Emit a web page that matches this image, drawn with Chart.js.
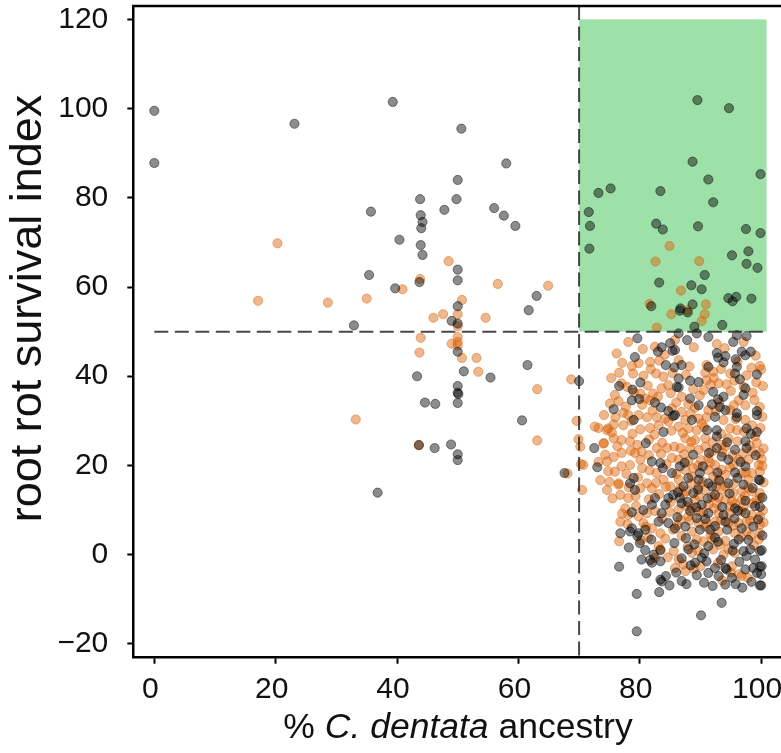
<!DOCTYPE html>
<html>
<head>
<meta charset="utf-8">
<script src="https://cdn.jsdelivr.net/npm/chart.js@4.4.1/dist/chart.umd.min.js"></script>
<style>
  html, body { margin: 0; padding: 0; background: #fff; overflow: hidden; }
  /* the reference is a crop: the plot runs on past the right edge of the window */
  #chart { display: block; }
</style>
</head>
<body>
<canvas id="chart" width="820" height="753"></canvas>
<script>
// tick values
const xTicks = [0, 20, 40, 60, 80, 100];
const yTicks = [-20, 0, 20, 40, 60, 80, 100, 120];

// thresholds for the highlighted quadrant
const ancestryCut = 70;
const survivalCut = 50;
const boxTop = 120;
const boxRight = 100.9;

// [ancestry %, survival index] - dark points
const darkPoints = [
  [0,99.5],[0,87.8],[23.1,96.6],[39.3,101.5],[50.6,95.5],[58.0,87.7],[50.0,84.0],[43.8,79.7],[49.8,79.7],
  [47.8,77.3],[35.7,76.9],[56.0,77.7],[57.6,76.0],[59.5,73.7],[43.9,76.1],[44.2,74.6],[44.0,73.2],[40.4,70.6],
  [43.9,69.4],[44.2,67.2],[50.0,63.9],[50.0,61.5],[35.4,62.7],[39.7,59.7],[43.7,61.1],[63.0,58.0],[61.7,54.8],
  [50.0,55.7],[49.0,52.4],[50.0,51.8],[32.9,51.4],[50.0,45.5],[61.5,42.5],[51.0,41.1],[43.3,40.0],[55.4,39.7],
  [50.0,37.8],[50.0,36.3],[50.1,36.0],[44.6,34.1],[46.3,33.8],[50.0,34.0],[60.6,30.1],[43.6,24.6],[46.2,23.9],
  [48.9,24.7],[50.0,22.5],[50.0,21.2],[36.8,13.9],[67.6,18.3],[70.0,38.9],
  // upper right box
  [89.5,101.9],[94.7,100.1],[88.7,88.1],[99.9,85.3],[91.3,84.1],[73.2,81.1],[75.2,82.1],[83.4,81.5],[92.1,79.0],
  [71.6,76.8],[71.8,73.7],[82.7,74.2],[83.8,72.9],[89.6,73.6],[97.5,73.0],[99.9,72.1],[71.7,68.6],[97.9,68.0],
  [95.2,67.1],[97.6,65.2],[99.4,64.3],[90.7,62.7],[83.2,61.0],[88.5,60.4],[90.2,59.5],[81.9,55.7],[88.7,56.1],
  [86.6,54.7],[87.9,54.3],[86.7,55.2],[94.6,57.5],[95.9,57.8],[95.3,56.8],[98.4,57.4],[93.6,51.5],[89.0,51.1],
  // main cluster
  [79.6,48.5],[79.2,44.3],[83.0,45.5],[83.6,46.5],[85.0,47.4],[85.4,45.7],[84.3,42.5],[85.7,42.0],[76.6,37.8],
  [80.1,38.6],[78.8,37.0],[78.7,34.6],[79.9,34.9],[75.7,32.6],[82.5,34.1],[83.5,33.0],[84.7,32.2],[85.5,31.1],
  [79.0,30.2],[83.9,27.5],[86.1,37.6],[86.4,49.6],
  [89.4,49.6],[91.3,48.8],[96.0,49.2],[97.6,49.0],[95.4,47.7],[87.8,48.1],[92.7,45.2],[94.1,44.5],[92.9,44.2],
  [93.8,43.1],[96.8,45.5],[97.4,44.7],[98.3,45.5],[95.8,43.8],[85.8,45.9],[86.9,42.5],[91.3,42.1],[96.0,42.1],
  [95.7,40.6],[99.3,40.4],[96.5,39.3],[86.4,39.5],[88.3,39.0],[89.7,38.7],[86.4,37.5],[97.4,37.3],[97.1,35.8],
  [92.1,36.5],[88.3,35.0],[93.8,35.4],[92.9,34.8],[89.7,33.5],[91.9,33.7],[93.2,33.1],[94.1,32.4],[96.0,31.7],
  [99.3,32.2],[99.3,31.3],[88.6,30.2],[92.4,30.9],[85.8,31.3],[92.7,27.9],[91.1,27.9],[97.6,28.3],[99.3,27.5],
  [96.0,30.8],[99.8,16.7],[99.8,10.7],[100.1,1.0],[99.8,-2.7],[99.8,-6.9],
  [72.5,23.9],[73.0,19.6],[81.0,25.0],[82.0,20.9],[83.4,20.5],[83.8,19.4],[85.3,18.3],[79.0,17.2],[78.4,16.0],
  [79.2,14.5],[82.5,12.7],[84.7,12.7],[85.5,13.4],[82.0,11.2],[78.7,9.5],[80.6,10.0],[83.6,9.3],[83.1,7.4],
  [84.7,7.1],[78.7,5.9],[78.4,5.2],[76.8,4.8],[79.8,4.8],[80.9,5.6],[84.2,11.2],
  [92.7,26.5],[97.4,25.4],[97.6,23.9],[92.7,23.9],[95.7,23.5],[93.5,22.0],[94.6,21.3],[88.8,22.4],[97.4,19.8],
  [95.7,18.4],[89.9,18.3],[91.3,16.0],[91.9,15.3],[89.7,16.8],[94.6,16.0],[97.1,15.7],[99.6,16.8],[87.2,15.3],
  [88.8,13.8],[92.4,13.4],[86.6,12.7],[95.7,10.4],[96.2,9.9],[99.0,10.9],[86.9,11.5],[90.2,11.2],[91.3,9.3],
  [93.8,8.9],[97.4,9.3],[89.4,8.2],[87.5,6.3],[89.9,5.6],[91.6,5.6],[94.1,7.4],[94.4,5.6],[98.7,6.3],[85.8,5.9],
  [86.6,19.8],[88.0,17.2],
  [76.6,-2.7],[80.9,1.0],[80.3,-1.1],[82.0,-1.8],[83.4,-1.5],[82.3,0.0],[83.4,-5.6],[83.6,-6.0],[84.3,-4.8],
  [84.9,-6.9],[83.2,-8.4],[79.5,-8.8],[79.5,-17.2],[79.6,4.2],[81.7,-1.2],[83.4,1.0],
  [86.9,-5.9],[88.0,1.2],[91.0,-1.5],[91.3,-4.1],[92.4,-3.0],[93.0,-4.8],[94.1,-6.7],[94.3,-3.3],[95.2,-5.2],
  [96.3,3.4],[97.1,0.8],[97.6,-0.3],[97.4,-3.3],[98.7,-3.0],[99.3,-4.1],[100.1,-2.6],[100.0,-4.4],[100.0,-6.9],
  [99.8,0.8],[93.5,-10.8],[90.1,-13.6],[92.4,3.8],[94.1,-3.0],[89.1,-1.8],[90.2,-0.7],[98.2,1.2],[91.3,1.9],
  // dense core
  [86.0,-4.0],[87.7,-6.6],[89.4,-4.6],[90.6,-6.3],[92.0,-7.0],[95.8,-6.6],[96.9,-7.4],[98.4,-6.1],
  [86.9,-0.8],[88.4,-2.4],[90.6,0.3],[93.4,-1.2],[95.3,0.9],[96.4,-1.6],[99.0,-1.1],
  [85.7,2.6],[87.6,3.7],[89.0,2.3],[92.9,2.9],[95.5,2.4],[97.9,3.3],[100.2,4.3],
  [86.2,8.4],[88.3,9.8],[90.8,8.0],[92.4,6.4],[95.6,8.1],[96.8,5.9],[99.5,7.9],
  [87.9,11.8],[89.3,10.6],[91.2,12.6],[93.6,10.7],[94.8,13.7],[97.4,12.1],[100.2,12.8],
  [86.3,14.0],[89.6,14.6],[93.1,16.6],[96.1,17.2],[98.6,14.9],
  [87.4,20.6],[90.4,19.8],[92.8,18.4],[96.6,20.8],[99.1,22.3],[91.4,22.8],[94.4,25.2],[98.3,27.1],
  [80.0,2.6],[81.9,3.4],[78.2,1.6],[81.1,-4.2]
];

// [ancestry %, survival index] - orange points
const orangePoints = [
  [20.3,69.8],[17.1,56.9],[28.6,56.5],[35.0,57.4],[40.9,59.5],[43.8,61.8],[48.5,65.8],[56.6,60.7],[64.9,60.3],
  [50.7,57.1],[46.0,53.1],[47.6,53.9],[50.0,53.9],[54.6,53.1],[50.0,51.2],[43.9,48.6],[50.0,48.8],[50.0,47.7],
  [49.0,47.3],[50.0,46.9],[43.7,45.3],[50.7,44.1],[53.1,44.1],[53.4,41.0],[63.1,37.1],[33.2,30.3],[43.6,24.5],
  [63.1,25.6],[68.1,18.2],[68.7,39.3],[69.6,30.0],[69.9,25.9],[70.2,24.2],[70.3,20.3],[70.5,14.5],
  // upper right box
  [84.9,69.2],[82.6,65.7],[89.8,65.8],[86.8,59.2],[81.6,56.2],[90.9,56.1],[90.7,53.9],[90.2,52.4],[85.2,53.9],
  [82.8,50.9],[87.9,54.8],
  // main cluster
  [78.1,47.7],[82.5,46.6],[77.1,43.0],[78.7,42.3],[76.6,40.8],[81.7,43.2],[81.8,41.6],[82.7,40.6],[83.9,39.9],
  [84.7,38.0],[83.6,37.3],[82.2,36.1],[75.9,35.8],[76.5,34.4],[80.1,36.1],[80.9,35.0],[81.7,34.6],[74.1,31.3],
  [77.3,31.8],[78.1,31.3],[79.8,31.3],[81.2,30.8],[82.8,30.8],[75.7,29.2],[77.3,29.0],[73.2,28.4],[74.8,28.3],
  [80.1,28.1],[81.7,28.4],[83.1,29.0],[84.2,30.5],[85.3,32.8],
  [78.9,40.6],[77.9,37.6],[75.1,33.9],[72.6,28.7],[74.0,24.9],[73.2,20.8],[73.5,16.7],[74.6,14.5],[76.5,16.0],
  [77.0,38.4],[74.6,27.9],
  [92.7,47.2],[97.1,47.7],[86.4,43.6],[91.0,42.5],[92.1,41.0],[94.9,40.6],[97.6,40.2],[99.8,42.3],[100.0,41.5],
  [90.8,40.8],[91.0,39.1],[93.0,38.4],[94.3,38.2],[97.1,37.6],[90.5,36.9],[96.3,34.6],[97.4,33.5],[99.8,33.1],
  [86.9,35.4],[88.0,33.7],[89.1,33.0],[91.3,32.4],[94.9,32.4],[86.9,32.0],[87.5,30.2],[89.7,30.5],[91.0,30.8],
  [93.8,30.2],[97.4,30.2],[98.5,29.0],[86.4,28.7],[88.0,28.3],[89.4,27.9],[94.9,28.3],[96.0,27.9],[85.8,48.1],
  [74.1,25.0],[75.7,26.1],[77.0,25.7],[78.4,25.4],[70.7,20.1],[74.3,22.4],[74.6,20.9],[74.8,18.7],[77.0,22.8],
  [77.0,19.8],[78.4,20.1],[80.1,21.3],[79.2,22.8],[80.3,23.1],[82.8,23.9],[84.5,23.9],[76.5,15.7],[76.8,13.4],
  [78.1,12.7],[80.1,14.9],[81.2,16.0],[77.6,10.4],[78.1,8.9],[76.8,7.4],[79.8,8.6],[81.2,9.3],[80.6,7.1],
  [82.0,5.9],[83.4,4.8],[85.5,5.6],[82.8,18.3],[83.9,16.8],[85.0,15.3],[82.0,14.9],
  [87.5,26.1],[89.1,25.7],[90.8,26.1],[94.6,26.1],[99.0,26.5],[99.3,25.0],[86.7,23.9],[88.3,23.9],[90.8,24.2],
  [94.1,24.2],[99.8,22.8],[98.5,23.1],[86.4,21.3],[88.0,20.9],[91.3,21.6],[92.4,20.1],[96.3,21.3],[97.9,21.3],
  [99.6,20.1],[87.5,19.0],[88.8,19.4],[91.3,19.0],[93.5,19.0],[98.5,18.3],[99.8,18.6],[86.4,16.8],[88.6,17.5],
  [93.0,16.8],[94.1,17.9],[97.9,16.8],[87.7,14.2],[90.8,14.5],[93.5,14.5],[95.4,13.8],[98.5,14.2],[99.8,13.8],
  [86.4,10.1],[88.6,10.4],[92.7,11.5],[94.1,12.3],[96.8,12.3],[99.8,12.7],[88.0,8.6],[93.0,9.3],[94.9,9.3],
  [98.5,8.9],[99.8,8.6],[86.7,7.8],[91.0,7.1],[92.4,7.4],[96.3,7.1],[97.6,7.4],[99.8,6.7],[88.6,5.2],[93.0,5.2],
  [95.7,4.8],[97.6,5.2],[99.8,4.8],
  [89.7,23.5],[91.9,23.1],[95.4,20.1],[96.8,18.3],[89.7,15.3],[91.9,13.0],[89.1,12.3],[95.7,11.5],[98.5,11.5],
  [89.7,9.7],[91.3,11.2],[96.8,9.7],[94.6,7.1],[89.7,7.1],[94.1,15.3],[96.8,14.2],[92.1,17.5],
  [76.6,3.0],[81.4,3.8],[83.4,1.2],[83.1,1.9],[82.5,-0.7],[85.6,0.8],[85.8,-3.0],
  [86.4,-1.1],[87.2,-2.2],[87.5,-3.7],[88.6,0.4],[90.0,-2.6],[92.1,1.2],[93.8,0.0],[96.3,-4.4],[96.8,-4.8],
  [95.2,-2.6],[90.5,3.0],[94.6,1.2],[99.6,3.4],[91.9,3.4],
  // filling the orange mass
  [80.5,46.1],[84.1,44.8],[88.9,46.5],[94.0,46.3],[99.1,44.6],[76.2,45.1],
  [79.8,42.9],[83.2,43.5],[88.2,42.2],[93.4,41.6],[96.1,43.3],[98.4,41.9],
  [75.3,39.6],[80.6,40.1],[85.4,40.7],[87.6,40.3],[92.2,39.6],[95.6,39.0],[99.2,38.6],
  [79.0,36.4],[81.3,37.9],[85.1,36.2],[88.8,37.1],[91.7,38.1],[95.0,36.7],[98.6,36.3],[100.3,37.8],
  [77.7,33.2],[80.4,33.6],[83.0,35.4],[86.0,34.1],[89.9,35.7],[93.1,34.1],[95.5,33.5],[98.9,34.7],
  [76.0,30.8],[78.6,30.0],[82.1,32.3],[84.7,29.9],[88.4,31.6],[90.2,29.4],[92.5,32.2],[95.8,30.4],[100.2,30.9],
  [75.4,27.4],[78.8,27.1],[82.4,26.9],[85.2,27.8],[87.1,27.3],[90.6,28.6],[93.4,27.1],[97.2,27.6],[99.9,28.4],
  [76.3,24.3],[79.6,24.6],[81.5,25.8],[83.7,25.1],[85.7,24.2],[88.5,25.3],[92.0,25.2],[93.5,24.6],[96.1,25.4],
  [98.1,24.5],[100.4,23.8],
  [75.7,21.9],[78.5,23.3],[81.5,22.3],[83.5,22.6],[85.3,21.7],[87.3,22.5],[90.1,21.2],[93.6,22.9],[95.3,22.3],
  [97.0,22.7],[100.1,21.4],
  [75.9,18.6],[77.8,18.1],[80.4,19.4],[81.6,18.9],[84.4,20.3],[86.0,18.1],[89.6,19.9],[91.6,20.6],[94.9,19.6],
  [97.5,18.4],[100.2,19.9],
  [75.0,16.3],[78.2,15.1],[79.7,17.3],[82.7,16.1],[84.3,15.2],[86.6,14.8],[88.5,16.0],[90.4,16.3],[92.6,15.3],
  [95.5,15.9],[97.9,15.0],[100.4,16.2],
  [75.5,12.6],[79.3,13.1],[81.5,12.4],[83.2,13.6],[85.1,11.8],[87.2,13.5],[89.7,13.2],[93.0,12.8],[95.2,12.0],
  [97.3,13.1],[99.2,12.2],
  [77.1,9.2],[79.4,10.9],[82.5,9.8],[84.9,9.6],[87.7,10.9],[90.5,9.5],[92.2,10.4],[94.8,10.8],[97.1,10.7],[100.3,9.9],
  [78.0,6.8],[81.0,6.3],[83.7,8.1],[86.2,6.6],[88.2,7.6],[90.8,6.3],[93.4,7.7],[95.4,6.5],[98.2,7.6],[100.4,7.2],
  [80.2,3.2],[84.2,3.6],[86.9,4.2],[89.4,3.4],[91.7,4.5],[94.1,3.1],[96.7,3.9],[98.3,4.3],
  [84.6,-0.6],[87.9,1.8],[89.6,0.9],[93.2,2.2],[95.7,0.4],[98.8,2.1],
  [88.9,-3.2],[92.9,-1.9],[95.0,-4.0],[97.8,-5.2],[93.6,-5.8]
];

const FONT = "'Liberation Sans', Arial, Helvetica, sans-serif";

// x range: 0 sits at 154.3px and 100 at 761px, the canvas runs past the window
const xMin = -3.46;
const xMax = 109.7;

const toXY = function(p) {
  return {x: p[0], y: p[1]};
};

// green box + dashed lines + frame top + axis titles
const decorations = {
  id: "decorations",
  beforeDatasetsDraw: function(chart) {
    const ctx = chart.ctx;
    const x = chart.scales.x;
    const y = chart.scales.y;
    ctx.save();
    ctx.fillStyle = "rgb(158,225,168)";
    const left = x.getPixelForValue(ancestryCut);
    const right = x.getPixelForValue(boxRight);
    const top = y.getPixelForValue(boxTop);
    const bottom = y.getPixelForValue(survivalCut);
    ctx.fillRect(left, top, right - left, bottom - top);
    ctx.restore();
  },
  afterDatasetsDraw: function(chart) {
    const ctx = chart.ctx;
    const area = chart.chartArea;
    const x = chart.scales.x;
    const y = chart.scales.y;
    ctx.save();
    ctx.strokeStyle = "rgba(40,40,40,0.85)";
    ctx.lineWidth = 2;
    ctx.setLineDash([14, 6.5]);
    const vx = x.getPixelForValue(ancestryCut);
    ctx.beginPath();
    ctx.moveTo(vx, area.top);
    ctx.lineTo(vx, area.bottom);
    ctx.stroke();
    const hy = y.getPixelForValue(survivalCut);
    ctx.beginPath();
    ctx.moveTo(x.getPixelForValue(0), hy);
    ctx.lineTo(x.getPixelForValue(boxRight), hy);
    ctx.stroke();
    ctx.restore();
  },
  afterDraw: function(chart) {
    const ctx = chart.ctx;
    const area = chart.chartArea;
    ctx.save();
    ctx.strokeStyle = "#000";
    ctx.lineWidth = 2.5;
    ctx.beginPath();
    ctx.moveTo(area.left - 1.25, area.top);
    ctx.lineTo(area.right, area.top);
    ctx.stroke();

    ctx.fillStyle = "#111";
    ctx.textBaseline = "alphabetic";

    // y axis title
    ctx.save();
    ctx.translate(41, 308.5);
    ctx.rotate(-Math.PI / 2);
    ctx.textAlign = "center";
    ctx.font = "45px " + FONT;
    ctx.fillText("root rot survival index", 0, 0);
    ctx.restore();

    // x axis title: "% C. dentata ancestry"
    const parts = [
      {text: "% ", font: "35.5px " + FONT},
      {text: "C. dentata", font: "italic 35.5px " + FONT},
      {text: " ancestry", font: "35.5px " + FONT},
    ];
    let total = 0;
    parts.forEach(function(p) {
      ctx.font = p.font;
      p.w = ctx.measureText(p.text).width;
      total += p.w;
    });
    let cx = 458 - total / 2;
    ctx.textAlign = "left";
    parts.forEach(function(p) {
      ctx.font = p.font;
      ctx.fillText(p.text, cx, 738);
      cx += p.w;
    });
    ctx.restore();
  }
};

const axisGrid = {
  drawOnChartArea: false,
  drawTicks: true,
  tickLength: 6,
  tickWidth: 2,
  tickColor: "#000",
};

new Chart(document.getElementById("chart"), {
  type: "scatter",
  data: {
    datasets: [
      {
        label: "dark",
        data: darkPoints.map(toXY),
        backgroundColor: "rgba(0,0,0,0.45)",
        borderColor: "rgba(0,0,0,0.45)",
        borderWidth: 1,
        pointRadius: 4.6,
        order: 0,
      },
      {
        label: "orange",
        data: orangePoints.map(toXY),
        backgroundColor: "rgba(217,95,2,0.45)",
        borderColor: "rgba(217,95,2,0.45)",
        borderWidth: 1,
        pointRadius: 4.6,
        order: 1,
      },
    ]
  },
  options: {
    responsive: false,
    animation: false,
    layout: {autoPadding: false, padding: {top: 6, right: 0, left: 0, bottom: 0}},
    plugins: {
      legend: {display: false},
      tooltip: {enabled: false},
    },
    scales: {
      x: {
        type: "linear",
        min: xMin,
        max: xMax,
        grid: axisGrid,
        border: {display: true, color: "#000", width: 2.5},
        afterBuildTicks: function(scale) {
          scale.ticks = xTicks.map(function(v) { return {value: v}; });
        },
        afterFit: function(scale) {
          scale.height = 95.3;
          scale.paddingLeft = 0;
          scale.paddingRight = 0;
        },
        ticks: {
          color: "#111",
          padding: 8,
          labelOffset: -4,
          font: {family: FONT, size: 30},
        },
      },
      y: {
        type: "linear",
        min: -23.1,
        max: 123.0,
        grid: axisGrid,
        border: {display: true, color: "#000", width: 2.5},
        afterBuildTicks: function(scale) {
          scale.ticks = yTicks.map(function(v) { return {value: v}; });
        },
        afterFit: function(scale) {
          scale.width = 133.3;
          scale.paddingTop = 0;
          scale.paddingBottom = 0;
        },
        ticks: {
          color: "#111",
          padding: 19,
          font: {family: FONT, size: 30},
          callback: function(v) {
            return v < 0 ? "\u2212" + Math.abs(v) : String(v);
          },
        },
      },
    },
  },
  plugins: [decorations],
});
</script>
</body>
</html>
